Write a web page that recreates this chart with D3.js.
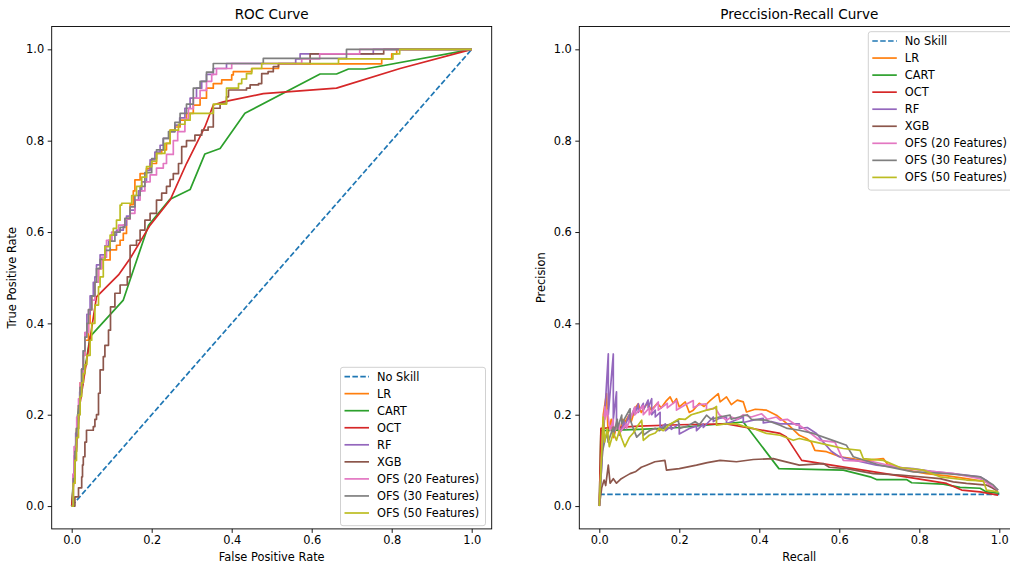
<!DOCTYPE html>
<html>
<head>
<meta charset="utf-8">
<script src="https://cdnjs.cloudflare.com/ajax/libs/d3/7.8.5/d3.min.js"></script>
<style>
  html, body { margin: 0; padding: 0; background: #fff; }
  svg { display: block; font-family: "DejaVu Sans", sans-serif; }
</style>
</head>
<body>
<svg id="chart" width="1010" height="569"></svg>
<script>
// ---- model names, colours and tick values ----
const modelNames = ["No Skill", "LR", "CART", "OCT", "RF", "XGB",
  "OFS (20 Features)", "OFS (30 Features)", "OFS (50 Features)"];
const modelColors = ["#1f77b4", "#ff7f0e", "#2ca02c", "#d62728", "#9467bd",
  "#8c564b", "#e377c2", "#7f7f7f", "#bcbd22"];
const tickValues = [0.0, 0.2, 0.4, 0.6, 0.8, 1.0];

// ---- ROC curves: [false positive rate, true positive rate] ----
const rocNoSkill = [[0, 0], [1, 1]];
const rocLR = [[0,0],[0.004,0.05],[0.008,0.12],[0.012,0.17],[0.017,0.22],[0.021,0.27],[0.025,0.3],[0.029,0.33],[0.033,0.363],[0.042,0.4],[0.046,0.43],[0.05,0.46],[0.058,0.49],[0.067,0.52],[0.075,0.539],[0.096,0.561],[0.112,0.571],[0.121,0.582],[0.129,0.597],[0.137,0.63],[0.146,0.66],[0.154,0.69],[0.158,0.714],[0.171,0.728],[0.187,0.739],[0.196,0.75],[0.212,0.772],[0.225,0.78],[0.237,0.794],[0.246,0.823],[0.258,0.83],[0.271,0.845],[0.287,0.86],[0.304,0.878],[0.321,0.893],[0.337,0.915],[0.354,0.925],[0.375,0.933],[0.4,0.944],[0.404,0.951],[0.45,0.958],[0.517,0.968],[0.775,0.979],[0.8,0.99],[0.8125,1.0],[1,1]];
const rocCART = [[0,0],[0.015,0.2],[0.046,0.371],[0.129,0.451],[0.192,0.615],[0.246,0.672],[0.296,0.693],[0.333,0.771],[0.371,0.783],[0.433,0.86],[0.621,0.946],[0.662,0.946],[0.692,0.957],[0.733,0.957],[1,1]];
const rocOCT = [[0,0],[0.02,0.22],[0.062,0.458],[0.117,0.506],[0.146,0.542],[0.196,0.615],[0.246,0.67],[0.287,0.75],[0.333,0.83],[0.354,0.878],[0.379,0.885],[0.479,0.903],[0.662,0.915],[0.821,0.958],[1,1]];
const rocRF = [[0,0],[0.003,0.06],[0.006,0.11],[0.01,0.16],[0.015,0.2],[0.02,0.25],[0.025,0.3],[0.029,0.34],[0.033,0.38],[0.038,0.42],[0.046,0.46],[0.054,0.49],[0.058,0.502],[0.062,0.528],[0.071,0.55],[0.083,0.57],[0.092,0.582],[0.1,0.593],[0.112,0.604],[0.129,0.615],[0.137,0.635],[0.146,0.648],[0.158,0.67],[0.167,0.69],[0.175,0.71],[0.187,0.735],[0.196,0.758],[0.208,0.775],[0.221,0.79],[0.229,0.805],[0.246,0.82],[0.258,0.834],[0.27,0.85],[0.283,0.871],[0.296,0.893],[0.312,0.915],[0.325,0.93],[0.337,0.945],[0.354,0.958],[0.387,0.969],[0.56,0.979],[0.571,0.99],[0.754,1.0],[1,1]];
const rocXGB = [[0,0],[0.008,0.02],[0.017,0.04],[0.025,0.064],[0.027,0.09],[0.029,0.108],[0.033,0.14],[0.037,0.166],[0.054,0.174],[0.058,0.19],[0.062,0.2],[0.067,0.247],[0.071,0.298],[0.079,0.327],[0.083,0.352],[0.092,0.385],[0.097,0.436],[0.108,0.466],[0.121,0.484],[0.139,0.502],[0.146,0.571],[0.162,0.582],[0.171,0.604],[0.183,0.626],[0.196,0.641],[0.212,0.67],[0.225,0.685],[0.237,0.7],[0.246,0.715],[0.254,0.728],[0.267,0.75],[0.275,0.787],[0.287,0.8],[0.308,0.812],[0.325,0.823],[0.341,0.83],[0.354,0.871],[0.371,0.882],[0.387,0.896],[0.392,0.911],[0.437,0.915],[0.446,0.922],[0.467,0.925],[0.475,0.947],[0.491,0.951],[0.504,0.962],[0.517,0.969],[0.596,0.99],[0.78,1.0],[1,1]];
const rocOFS20 = [[0,0],[0.003,0.07],[0.006,0.13],[0.0125,0.195],[0.017,0.235],[0.021,0.27],[0.029,0.33],[0.033,0.38],[0.042,0.43],[0.05,0.451],[0.058,0.49],[0.067,0.52],[0.075,0.545],[0.087,0.582],[0.1,0.6],[0.117,0.615],[0.133,0.628],[0.146,0.641],[0.158,0.67],[0.171,0.69],[0.183,0.71],[0.196,0.725],[0.212,0.74],[0.229,0.75],[0.237,0.77],[0.254,0.8],[0.265,0.82],[0.283,0.847],[0.292,0.87],[0.304,0.893],[0.321,0.91],[0.337,0.93],[0.35,0.945],[0.362,0.958],[0.4,0.969],[0.575,0.979],[0.62,0.99],[0.72,1.0],[1,1]];
const rocOFS30 = [[0,0],[0.004,0.06],[0.008,0.12],[0.012,0.17],[0.017,0.22],[0.021,0.26],[0.025,0.3],[0.029,0.34],[0.033,0.37],[0.038,0.4],[0.042,0.43],[0.05,0.46],[0.058,0.49],[0.062,0.52],[0.071,0.54],[0.083,0.56],[0.096,0.58],[0.108,0.6],[0.121,0.61],[0.133,0.63],[0.146,0.655],[0.158,0.68],[0.171,0.7],[0.183,0.73],[0.2,0.761],[0.212,0.78],[0.229,0.805],[0.242,0.82],[0.258,0.84],[0.271,0.86],[0.287,0.88],[0.304,0.915],[0.321,0.93],[0.337,0.95],[0.354,0.969],[0.479,0.98],[0.687,1.0],[1,1]];
const rocOFS50 = [[0,0],[0.004,0.05],[0.008,0.1],[0.012,0.15],[0.017,0.2],[0.021,0.24],[0.025,0.27],[0.029,0.29],[0.033,0.31],[0.038,0.33],[0.046,0.363],[0.05,0.4],[0.058,0.44],[0.067,0.48],[0.071,0.502],[0.079,0.54],[0.083,0.568],[0.096,0.593],[0.104,0.608],[0.112,0.626],[0.121,0.659],[0.125,0.663],[0.15,0.68],[0.162,0.7],[0.175,0.72],[0.187,0.743],[0.2,0.755],[0.212,0.772],[0.233,0.794],[0.246,0.823],[0.267,0.836],[0.283,0.845],[0.296,0.86],[0.354,0.88],[0.387,0.915],[0.417,0.925],[0.425,0.935],[0.437,0.947],[0.45,0.958],[0.475,0.969],[0.667,0.979],[0.803,0.99],[0.82,1.0],[1,1]];

// ---- precision-recall curves: [recall, precision] ----
const prNoSkill = [[0, 0.0255], [1, 0.0255]];
const prLR = [[0,0],[0.005,0.12],[0.01,0.2],[0.018,0.246],[0.022,0.16],[0.03,0.19],[0.036,0.15],[0.045,0.18],[0.05,0.155],[0.058,0.19],[0.064,0.184],[0.075,0.2],[0.08,0.185],[0.09,0.215],[0.0975,0.224],[0.105,0.205],[0.12,0.225],[0.13,0.21],[0.145,0.225],[0.155,0.215],[0.168,0.231],[0.177,0.239],[0.185,0.225],[0.193,0.235],[0.2,0.217],[0.215,0.228],[0.225,0.205],[0.235,0.21],[0.25,0.225],[0.262,0.218],[0.277,0.231],[0.2975,0.246],[0.302,0.228],[0.318,0.239],[0.33,0.222],[0.345,0.232],[0.36,0.228],[0.368,0.206],[0.39,0.212],[0.418,0.21],[0.443,0.199],[0.47,0.18],[0.5,0.155],[0.518,0.148],[0.53,0.14],[0.539,0.122],[0.568,0.119],[0.59,0.112],[0.602,0.108],[0.64,0.103],[0.668,0.1],[0.71,0.104],[0.72,0.092],[0.768,0.0786],[0.818,0.071],[0.87,0.066],[0.918,0.06],[0.968,0.053],[0.997,0.031]];
const prCART = [[0,0],[0.004,0.165],[0.1,0.168],[0.2,0.172],[0.36,0.184],[0.449,0.082],[0.61,0.0786],[0.677,0.064],[0.693,0.058],[0.768,0.058],[0.781,0.051],[0.86,0.048],[0.902,0.041],[0.952,0.039],[0.968,0.031],[1.0,0.028]];
const prOCT = [[0,0],[0.004,0.17],[0.1,0.175],[0.2,0.178],[0.318,0.18],[0.452,0.159],[0.468,0.151],[0.506,0.1],[0.868,0.0496],[0.906,0.035],[0.952,0.031],[0.997,0.024]];
const prRF = [[0,0],[0.0225,0.333],[0.0225,0.2],[0.035,0.333],[0.035,0.19],[0.043,0.25],[0.043,0.17],[0.05,0.18],[0.05,0.155],[0.062,0.185],[0.062,0.17],[0.075,0.2],[0.075,0.185],[0.088,0.215],[0.088,0.2],[0.0975,0.224],[0.0975,0.205],[0.11,0.225],[0.11,0.21],[0.122,0.232],[0.122,0.215],[0.131,0.235],[0.131,0.2],[0.14,0.21],[0.14,0.195],[0.152,0.205],[0.152,0.17],[0.165,0.18],[0.165,0.165],[0.18,0.175],[0.18,0.168],[0.2,0.18],[0.2,0.158],[0.215,0.165],[0.225,0.17],[0.243,0.175],[0.243,0.165],[0.26,0.18],[0.26,0.172],[0.285,0.195],[0.285,0.185],[0.3,0.192],[0.318,0.195],[0.318,0.18],[0.34,0.188],[0.36,0.195],[0.36,0.183],[0.385,0.188],[0.41,0.192],[0.41,0.182],[0.43,0.185],[0.452,0.18],[0.5,0.18],[0.5,0.17],[0.52,0.172],[0.543,0.159],[0.56,0.14],[0.58,0.12],[0.6,0.108],[0.64,0.1],[0.693,0.0895],[0.74,0.085],[0.785,0.082],[0.83,0.076],[0.885,0.071],[0.952,0.064],[0.97,0.055],[0.985,0.0386],[0.997,0.035]];
const prXGB = [[0,0],[0.006,0.04],[0.012,0.057],[0.016,0.045],[0.0225,0.0895],[0.027,0.05],[0.035,0.06],[0.043,0.05],[0.055,0.06],[0.065,0.065],[0.077,0.071],[0.09,0.075],[0.105,0.085],[0.118,0.0895],[0.139,0.097],[0.164,0.1],[0.168,0.0786],[0.2,0.082],[0.243,0.0895],[0.27,0.095],[0.302,0.1],[0.343,0.097],[0.385,0.102],[0.435,0.104],[0.452,0.1],[0.5,0.0895],[0.56,0.093],[0.575,0.085],[0.618,0.082],[0.685,0.071],[0.752,0.068],[0.852,0.06],[0.885,0.053],[0.918,0.0496],[0.968,0.046],[0.993,0.035]];
const prOFS20 = [[0,0],[0.008,0.15],[0.014,0.217],[0.014,0.19],[0.02,0.21],[0.027,0.166],[0.035,0.19],[0.035,0.16],[0.05,0.18],[0.05,0.16],[0.068,0.18],[0.068,0.17],[0.089,0.217],[0.089,0.2],[0.1,0.21],[0.11,0.22],[0.11,0.2],[0.125,0.215],[0.125,0.2],[0.1475,0.228],[0.1475,0.21],[0.17,0.225],[0.17,0.215],[0.193,0.231],[0.193,0.21],[0.215,0.222],[0.235,0.231],[0.235,0.215],[0.25,0.222],[0.268,0.224],[0.268,0.21],[0.29,0.215],[0.3,0.2],[0.318,0.188],[0.33,0.195],[0.345,0.19],[0.36,0.2],[0.38,0.195],[0.406,0.202],[0.42,0.19],[0.443,0.195],[0.452,0.188],[0.47,0.19],[0.493,0.177],[0.5,0.177],[0.52,0.165],[0.551,0.144],[0.589,0.14],[0.61,0.1],[0.685,0.097],[0.72,0.09],[0.768,0.082],[0.82,0.077],[0.885,0.071],[0.952,0.06],[0.985,0.042],[0.997,0.035]];
const prOFS30 = [[0,0],[0.008,0.12],[0.014,0.144],[0.02,0.16],[0.022,0.14],[0.035,0.173],[0.035,0.155],[0.045,0.19],[0.045,0.17],[0.056,0.199],[0.056,0.18],[0.077,0.213],[0.077,0.19],[0.085,0.17],[0.0935,0.151],[0.11,0.165],[0.11,0.155],[0.127,0.166],[0.14,0.17],[0.15,0.165],[0.168,0.177],[0.18,0.18],[0.1975,0.188],[0.2,0.17],[0.22,0.175],[0.24,0.185],[0.25,0.178],[0.268,0.199],[0.28,0.19],[0.3,0.195],[0.327,0.199],[0.33,0.19],[0.35,0.195],[0.37,0.2],[0.38,0.19],[0.418,0.188],[0.452,0.177],[0.47,0.17],[0.5,0.166],[0.535,0.159],[0.58,0.145],[0.618,0.133],[0.635,0.108],[0.702,0.0895],[0.785,0.075],[0.85,0.072],[0.91,0.068],[0.952,0.064],[0.985,0.046],[0.997,0.035]];
const prOFS50 = [[0,0],[0.005,0.1],[0.01,0.195],[0.013,0.14],[0.02,0.17],[0.025,0.13],[0.035,0.16],[0.043,0.144],[0.05,0.165],[0.055,0.15],[0.064,0.13],[0.075,0.15],[0.085,0.16],[0.095,0.175],[0.106,0.188],[0.11,0.144],[0.125,0.155],[0.14,0.16],[0.15,0.17],[0.16,0.165],[0.175,0.178],[0.2,0.191],[0.215,0.19],[0.23,0.2],[0.25,0.205],[0.268,0.21],[0.285,0.213],[0.293,0.218],[0.293,0.177],[0.315,0.18],[0.343,0.18],[0.36,0.175],[0.385,0.17],[0.418,0.159],[0.452,0.155],[0.485,0.144],[0.5,0.148],[0.54,0.14],[0.576,0.133],[0.61,0.126],[0.652,0.122],[0.66,0.104],[0.71,0.1],[0.752,0.0845],[0.81,0.0786],[0.852,0.064],[0.918,0.057],[0.96,0.055],[0.968,0.035],[0.997,0.031]];

const rocSeries = [rocNoSkill, rocLR, rocCART, rocOCT, rocRF, rocXGB, rocOFS20, rocOFS30, rocOFS50];
const prSeries = [prNoSkill, prLR, prCART, prOCT, prRF, prXGB, prOFS20, prOFS30, prOFS50];
// models whose ROC is a threshold staircase (tree models CART/OCT are piecewise linear)
const rocStepped = [false, true, false, false, true, true, true, true, true];

const svg = d3.select("#chart");
const FONT = 11.4;
const LINE_W = 1.7;

function drawPanel(cfg) {
  const x = d3.scaleLinear().domain([-0.05, 1.05]).range([cfg.left, cfg.right]);
  const y = d3.scaleLinear().domain([-0.05, 1.05]).range([cfg.bottom, cfg.top]);
  const g = svg.append("g");
  const clipId = "clip-" + cfg.id;
  g.append("clipPath").attr("id", clipId).append("rect")
    .attr("x", cfg.left).attr("y", cfg.top)
    .attr("width", cfg.right - cfg.left).attr("height", cfg.bottom - cfg.top);

  // curves
  const plot = g.append("g").attr("clip-path", `url(#${clipId})`);
  cfg.series.forEach((data, i) => {
    const line = d3.line().x(d => x(d[0])).y(d => y(d[1]))
      .curve(cfg.stepped && cfg.stepped[i] ? d3.curveStepAfter : d3.curveLinear);
    plot.append("path").datum(data)
      .attr("d", line)
      .attr("fill", "none")
      .attr("stroke", modelColors[i])
      .attr("stroke-width", LINE_W)
      .attr("stroke-linejoin", "round")
      .attr("stroke-dasharray", i === 0 ? "5.5,2.4" : null);
  });

  // axes
  const xAxis = d3.axisBottom(x).tickValues(tickValues).tickFormat(d3.format(".1f"))
    .tickSize(4).tickPadding(3.5).tickSizeOuter(0);
  const yAxis = d3.axisLeft(y).tickValues(tickValues).tickFormat(d3.format(".1f"))
    .tickSize(4).tickPadding(3.5).tickSizeOuter(0);
  const gx = g.append("g").attr("transform", `translate(0,${cfg.bottom})`).call(xAxis);
  const gy = g.append("g").attr("transform", `translate(${cfg.left},0)`).call(yAxis);
  [gx, gy].forEach(a => {
    a.select(".domain").remove();
    a.selectAll("line").attr("stroke", "#000").attr("stroke-width", 0.9);
    a.selectAll("text").attr("font-size", FONT).attr("fill", "#000")
      .attr("font-family", "DejaVu Sans, sans-serif");
  });

  // frame
  g.append("rect")
    .attr("x", cfg.left).attr("y", cfg.top)
    .attr("width", cfg.right - cfg.left).attr("height", cfg.bottom - cfg.top)
    .attr("fill", "none").attr("stroke", "#000").attr("stroke-width", 0.9);

  // titles and labels
  const cx = (cfg.left + cfg.right) / 2;
  g.append("text").attr("x", cx).attr("y", 19).attr("text-anchor", "middle")
    .attr("font-size", 13.6).text(cfg.title);
  g.append("text").attr("x", cx).attr("y", 561).attr("text-anchor", "middle")
    .attr("font-size", FONT).text(cfg.xlabel);
  g.append("text").attr("transform", `translate(${cfg.ylabelX},${(cfg.top + cfg.bottom) / 2}) rotate(-90)`)
    .attr("text-anchor", "middle").attr("font-size", FONT).text(cfg.ylabel);

  // legend
  const lg = g.append("g").attr("transform", `translate(${cfg.legendX},${cfg.legendY})`);
  const rowH = 17.05;
  lg.append("rect").attr("x", 0).attr("y", 0)
    .attr("width", 145).attr("height", 16 + rowH * (modelNames.length - 1) + 4 + 2)
    .attr("rx", 2.5).attr("fill", "#fff").attr("fill-opacity", 0.8)
    .attr("stroke", "#cccccc").attr("stroke-width", 0.9);
  modelNames.forEach((name, i) => {
    const yy = 9.3 + i * rowH;
    lg.append("line").attr("x1", 4).attr("x2", 28.5).attr("y1", yy).attr("y2", yy)
      .attr("stroke", modelColors[i]).attr("stroke-width", LINE_W)
      .attr("stroke-dasharray", i === 0 ? "5.5,2.4" : null);
    lg.append("text").attr("x", 36.5).attr("y", yy).attr("dy", "0.36em")
      .attr("font-size", FONT).text(name);
  });
}

drawPanel({
  id: "roc", left: 51.7, right: 491.7, top: 26.5, bottom: 528.9,
  title: "ROC Curve", xlabel: "False Positive Rate", ylabel: "True Positive Rate",
  ylabelX: 16, series: rocSeries, stepped: rocStepped,
  legendX: 340.5, legendY: 367.3
});
drawPanel({
  id: "pr", left: 579.3, right: 1019.3, top: 26.5, bottom: 528.9,
  title: "Preccision-Recall Curve", xlabel: "Recall", ylabel: "Precision",
  ylabelX: 545, series: prSeries, stepped: null,
  legendX: 868.3, legendY: 31.7
});
</script>
</body>
</html>
